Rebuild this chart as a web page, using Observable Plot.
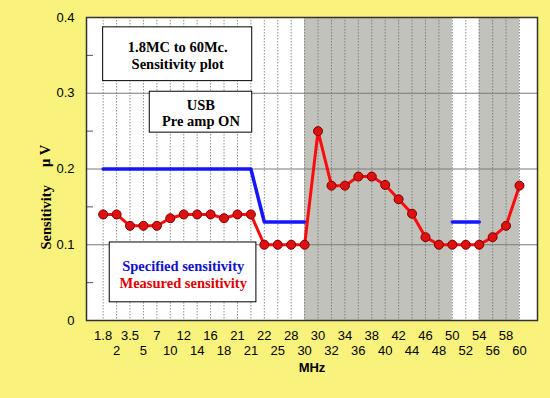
<!DOCTYPE html>
<html>
<head>
<meta charset="utf-8">
<script src="https://cdn.jsdelivr.net/npm/d3@7"></script>
<script src="https://cdn.jsdelivr.net/npm/@observablehq/plot@0.6"></script>
<style>
  html, body { margin: 0; padding: 0; background: #f9f27c; }
</style>
</head>
<body>
<div id="chart"></div>
<script>
// Band labels (MHz) — duplicates kept as they appear on the chart
const labels = ["1.8","2","3.5","5","7","10","12","14","16","18","21","21","22","25","28","30",
                "30","32","34","36","38","40","42","44","46","48","50","52","54","56","58","60"];
// Specified sensitivity (µV); NaN = no specification
const specified = [0.2,0.2,0.2,0.2,0.2,0.2,0.2,0.2,0.2,0.2,0.2,0.2,0.13,0.13,0.13,0.13,
                   NaN,NaN,NaN,NaN,NaN,NaN,NaN,NaN,NaN,NaN,0.13,0.13,0.13,NaN,NaN,NaN];
// Measured sensitivity (µV)
const measured = [0.14,0.14,0.125,0.125,0.125,0.135,0.14,0.14,0.14,0.135,0.14,0.14,0.1,0.1,0.1,0.1,
                  0.25,0.178,0.178,0.19,0.19,0.179,0.16,0.141,0.11,0.1,0.1,0.1,0.1,0.11,0.125,0.178];
// Shaded (out-of-band) regions, in band-index units
const shadeStart = [15, 28];
const shadeEnd = [26, 31];
// Y ticks
const yMajor = [0, 0.1, 0.2, 0.3, 0.4];
const yMinor = [0.05, 0.15, 0.25, 0.35];
// Annotation boxes (band-index / µV units)
const boxes = [
  {x1: 0, x2: 11.1, y1: 0.316, y2: 0.387},
  {x1: 3.47, x2: 11.1, y1: 0.248, y2: 0.302},
  {x1: 0.49, x2: 11.41, y1: 0.024, y2: 0.103}
];
const notes = [
  {x: 5.55, y: 0.3505, text: "1.8MC to 60Mc.\nSensitivity plot", color: "black"},
  {x: 7.28, y: 0.2743, text: "USB\nPre amp ON", color: "black"},
  {x: 5.96, y: 0.0719, text: "Specified sensitivity", color: "#1111cc"},
  {x: 5.96, y: 0.0495, text: "Measured sensitivity", color: "#e00000"}
];

const idx = d3.range(labels.length);
const specData = idx.map(i => ({i, v: specified[i]}));
const measData = idx.map(i => ({i, v: measured[i]}));
const shades = shadeStart.map((s, k) => ({x1: s, x2: shadeEnd[k]}));

const chart = Plot.plot({
  width: 550,
  height: 398,
  marginLeft: 86,
  marginRight: 13,
  marginTop: 17,
  marginBottom: 78,
  style: {background: "#f9f27c", fontFamily: "'Liberation Sans', Arial, sans-serif"},
  x: {type: "linear", domain: [-1.24, 32.34]},
  y: {domain: [0, 0.4]},
  marks: [
    Plot.frame({fill: "white"}),
    Plot.rect(shades, {x1: "x1", x2: "x2", y1: 0, y2: 0.4, fill: "#c2c2bc"}),
    Plot.ruleX(idx, {stroke: "#6a6a6a", strokeOpacity: 0.75, strokeDasharray: "1.5,1.5"}),
    Plot.ruleY([0.1, 0.2, 0.3], {stroke: "#7a7a7a", strokeWidth: 1.2}),
    Plot.axisY({ticks: yMinor, tickSize: 7, text: null, dx: 7, stroke: "#555"}),
    Plot.axisY({ticks: yMajor, tickSize: 0, tickPadding: 12, fontSize: 13,
                tickFormat: d => d === 0 ? "0" : d.toFixed(1), label: null}),
    Plot.axisX({ticks: idx.filter(i => i % 2 === 0), tickSize: 0, tickPadding: 10, fontSize: 13,
                tickFormat: i => labels[i], label: null}),
    Plot.axisX({ticks: idx.filter(i => i % 2 === 1), tickSize: 0, tickPadding: 25, fontSize: 13,
                tickFormat: i => labels[i], label: null}),
    Plot.text(["MHz"], {frameAnchor: "bottom", dy: 51, fontSize: 13, fontWeight: "bold"}),
    Plot.text(["Sensitivity"], {frameAnchor: "left", dx: -40, dy: 80.5, rotate: -90,
               fontSize: 14.5, fontWeight: "bold", fontFamily: "'Liberation Serif', serif"}),
    Plot.text(["\u03bc V"], {frameAnchor: "left", dx: -41, dy: -2, rotate: -90,
               fontSize: 14.5, fontWeight: "bold", fontFamily: "'Liberation Serif', serif"}),
    Plot.line(specData, {x: "i", y: "v", stroke: "#1515ff", strokeWidth: 3.5}),
    Plot.line(measData, {x: "i", y: "v", stroke: "#ff0a0a", strokeWidth: 3}),
    Plot.dot(measData, {x: "i", y: "v", r: 4.5, fill: "#e01010", stroke: "#7a0000", strokeWidth: 1}),
    Plot.rect(boxes, {x1: "x1", x2: "x2", y1: "y1", y2: "y2", fill: "white", stroke: "black", strokeWidth: 1}),
    Plot.text(notes, {x: "x", y: "y", text: "text", fill: "color", fontSize: 14.5, fontWeight: "bold",
                      lineHeight: 1.15, fontFamily: "'Liberation Serif', serif"}),
    Plot.frame({stroke: "#333", strokeWidth: 1.5})
  ]
});
document.getElementById("chart").appendChild(chart);
</script>
</body>
</html>
